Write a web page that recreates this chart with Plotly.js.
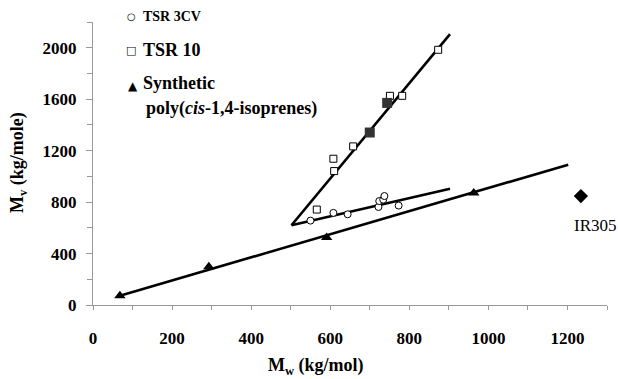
<!DOCTYPE html>
<html>
<head>
<meta charset="utf-8">
<script src="https://cdn.plot.ly/plotly-3.0.1.min.js"></script>
<style>html,body{margin:0;padding:0;background:#fff;}#chart{width:618px;height:379px;}</style>
</head>
<body>
<div id="chart"></div>
<script>
// ---- data ----
const tsr3cvMw = [550, 608, 644, 722, 724, 734, 737, 773];
const tsr3cvMv = [656, 716, 705, 762, 808, 819, 847, 773];

const tsr10OpenMw = [566, 608, 610, 658, 751, 782, 873];
const tsr10OpenMv = [742, 1137, 1041, 1233, 1626, 1626, 1984];

const tsr10FilledMw = [700, 744];
const tsr10FilledMv = [1341, 1571];

const synthMw = [68, 293, 591, 963];
const synthMv = [72, 297, 525, 871];

const ir305Mw = [1234];
const ir305Mv = [847];

// fitted trend lines (end points)
const fitTsr10Mw = [502, 903];
const fitTsr10Mv = [620, 2106];
const fitTsr3cvMw = [502, 903];
const fitTsr3cvMv = [620, 904];
const fitSynthMw = [68, 1202];
const fitSynthMv = [72, 1091];

const xTickVals = [0, 200, 400, 600, 800, 1000, 1200];
const yTickVals = [0, 400, 800, 1200, 1600, 2000];

// ---- plot ----
const serif = 'Liberation Serif';
const lineStyle = {color: '#000', width: 2.6};

const traces = [
  {x: fitTsr10Mw, y: fitTsr10Mv, mode: 'lines', line: lineStyle},
  {x: fitTsr3cvMw, y: fitTsr3cvMv, mode: 'lines', line: lineStyle},
  {x: fitSynthMw, y: fitSynthMv, mode: 'lines', line: lineStyle},
  {x: tsr3cvMw, y: tsr3cvMv, mode: 'markers',
   marker: {symbol: 'circle', size: 7, color: '#fff', line: {color: '#000', width: 1}}},
  {x: tsr10OpenMw, y: tsr10OpenMv, mode: 'markers',
   marker: {symbol: 'square', size: 7, color: '#fff', line: {color: '#000', width: 1}}},
  {x: tsr10FilledMw, y: tsr10FilledMv, mode: 'markers',
   marker: {symbol: 'square', size: 10, color: '#333', line: {color: '#333', width: 0}}},
  {x: synthMw, y: synthMv, mode: 'markers',
   marker: {symbol: 'triangle-up', size: 10, color: '#000'}},
  {x: ir305Mw, y: ir305Mv, mode: 'markers',
   marker: {symbol: 'diamond', size: 11, color: '#000'}}
];

const L = 93, R = 607, T = 22, B = 305;
const px = v => (v - L) / (R - L);
const py = v => (B - v) / (B - T);

function ann(text, x, y, size, opts) {
  return Object.assign({
    text: text, xref: 'paper', yref: 'paper', x: px(x), y: py(y),
    xanchor: 'left', yanchor: 'middle', showarrow: false,
    font: {family: serif, size: size, color: '#000'}
  }, opts || {});
}

const annotations = [
  ann('○', 125, 16, 10, {font: {family: 'DejaVu Sans', size: 10, color: '#000'}}),
  ann('<b>TSR 3CV</b>', 141, 16, 14),
  ann('□', 124, 50, 11, {font: {family: 'DejaVu Sans', size: 11, color: '#000'}}),
  ann('<b>TSR 10</b>', 141, 50, 18),
  ann('▲', 126, 86, 12, {font: {family: 'DejaVu Sans', size: 12, color: '#000'}}),
  ann('<b>Synthetic</b>', 141, 83, 18),
  ann('<b>poly(<i>cis</i>-1,4-isoprenes)</b>', 144, 108, 18),
  ann('IR305', 595, 225, 17, {xanchor: 'center'}),
  ann('<b>M<sub>w</sub> (kg/mol)</b>', 316, 366, 18, {xanchor: 'center'}),
  ann('<b>M<sub>v</sub> (kg/mole)</b>', 18, 163, 18, {xanchor: 'center', textangle: -90})
];

const axisCommon = {
  showgrid: false, zeroline: false, showline: true, linecolor: '#999', linewidth: 1,
  ticks: 'outside', tickcolor: '#999', tickwidth: 1,
  tickfont: {family: serif, size: 17, color: '#000', weight: 'bold'}
};

const layout = {
  width: 618, height: 379,
  margin: {l: L, r: 618 - R, t: T, b: 379 - B},
  paper_bgcolor: '#fff', plot_bgcolor: '#fff',
  font: {family: serif},
  showlegend: false, hovermode: false,
  xaxis: Object.assign({}, axisCommon, {
    range: [0, 1300], tickmode: 'array', tickvals: xTickVals,
    ticktext: xTickVals.map(v => String(v)),
    ticklen: 4, ticklabelstandoff: 14,
    minor: {dtick: 100, tick0: 0, ticks: 'outside', ticklen: 4, tickcolor: '#999', showgrid: false}
  }),
  yaxis: Object.assign({}, axisCommon, {
    range: [0, 2200], tickmode: 'array', tickvals: yTickVals,
    ticktext: yTickVals.map(v => String(v)),
    ticklen: 6, ticklabelstandoff: 6,
    minor: {dtick: 200, tick0: 0, ticks: 'outside', ticklen: 5, tickcolor: '#999', showgrid: false}
  }),
  annotations: annotations
};

Plotly.newPlot('chart', traces, layout, {displayModeBar: false, staticPlot: true});
</script>
</body>
</html>
